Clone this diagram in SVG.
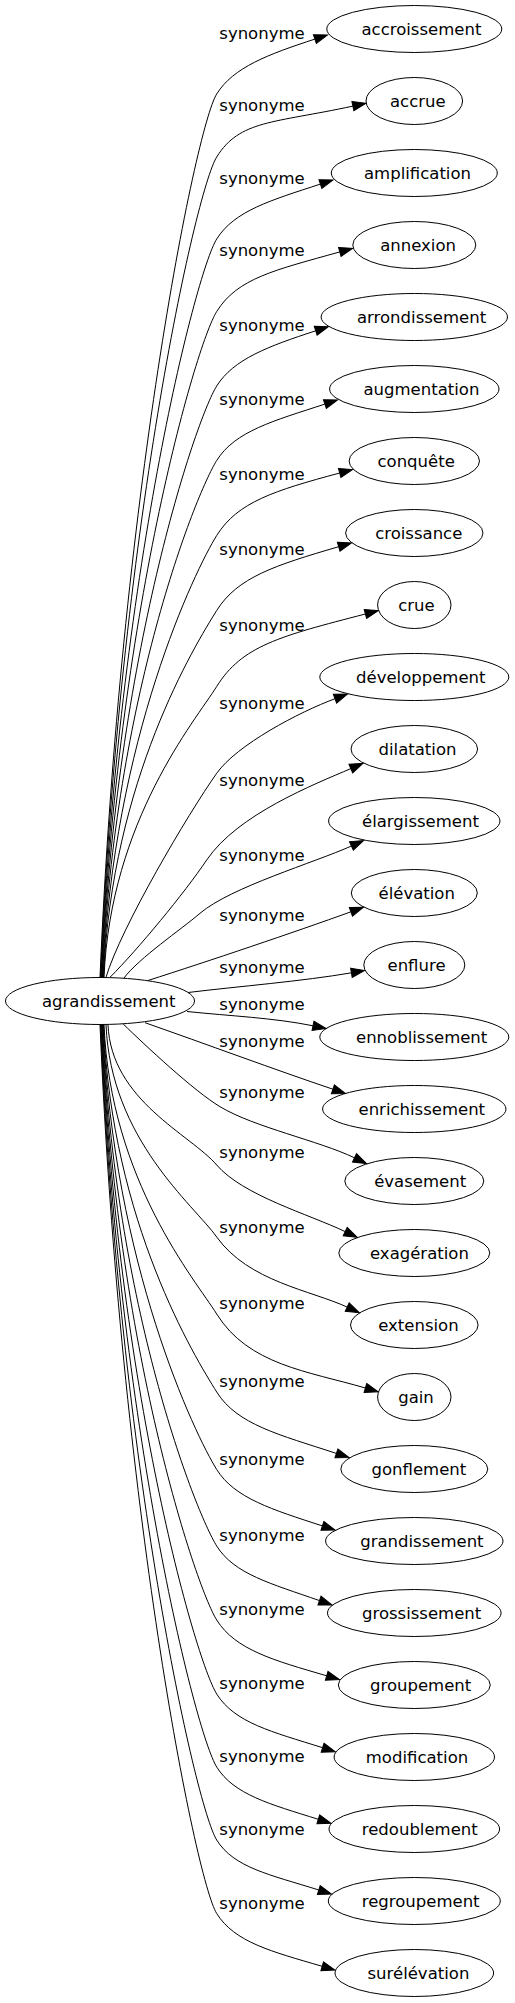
<svg xmlns="http://www.w3.org/2000/svg" width="515" height="2003" viewBox="0 0 515 2003">
<defs>
<style>
.n ellipse{fill:none;stroke:#000;stroke-width:1}
text{font-family:"DejaVu Sans",Verdana,sans-serif;font-size:16.5px;fill:#000}
#edges path{fill:none;stroke:#000;stroke-width:1;marker-end:url(#ah)}
</style>
<marker id="ah" viewBox="0 0 14 10" markerUnits="userSpaceOnUse" markerWidth="14" markerHeight="10" refX="0.5" refY="5" orient="auto" style="overflow:visible"><path d="M0.5,0.33 L13.8,5 L0.5,9.67 z" fill="#000" stroke="#000" stroke-width="1"/></marker>
</defs>
<rect width="515" height="2003" fill="#fff"/>
<g id="edges">
<g id="e0"><path d="M100,977.3 C120.3,500.3 195.5,128 216.7,94 C233.3,67.3 268.3,54.3 314.9,39.1"/><text x="219.3" y="38.5">synonyme</text></g>
<g id="e1"><path d="M100.5,977.3 C119.4,534.3 195.5,191 216.7,157 C239.8,119.9 273.1,123.3 352.9,106.1"/><text x="219.3" y="110.5">synonyme</text></g>
<g id="e2"><path d="M101,977.3 C118,578.6 195.5,273 216.7,239 C234.3,210.8 271.1,200.2 320.4,184.1"/><text x="219.3" y="183.5">synonyme</text></g>
<g id="e3"><path d="M101.5,977.3 C116.8,617.8 195.5,345.5 216.7,311.5 C237.6,278 274.8,270.2 339.8,251.9"/><text x="219.3" y="256">synonyme</text></g>
<g id="e4"><path d="M102,977.3 C115.6,658 195.5,420 216.7,386 C233.5,359.1 268.7,346.1 315.7,330.8"/><text x="219.3" y="330.5">synonyme</text></g>
<g id="e5"><path d="M102.5,977.3 C114.4,698.2 195.5,494.5 216.7,460.5 C235,431.1 273.5,420.9 324.9,404.1"/><text x="219.3" y="405">synonyme</text></g>
<g id="e6"><path d="M103,977.3 C113.2,738.7 195.5,569.5 216.7,535.5 C237.6,502 274.4,490.6 339.7,473"/><text x="219.3" y="480">synonyme</text></g>
<g id="e7"><path d="M103.5,977.3 C111.9,779.2 195.5,644.5 216.7,610.5 C237.4,577.4 274.3,565.5 338.7,546.7"/><text x="219.3" y="555">synonyme</text></g>
<g id="e8"><path d="M104,977.3 C110.7,820.3 195.5,720.5 216.7,686.5 C241.9,646 279.1,636.3 365.4,614"/><text x="219.3" y="631">synonyme</text></g>
<g id="e9"><path d="M106,977.3 C121,927.3 187.9,814.1 216.7,773.3 C236.9,744.7 299.3,712 335,698.7"/><text x="219.3" y="709">synonyme</text></g>
<g id="e10"><path d="M110,977.3 C138,949.3 184.3,893.2 206.7,860 C237.5,814.4 314.1,784.4 350.8,768.6"/><text x="219.3" y="786">synonyme</text></g>
<g id="e11"><path d="M124,978 C139,958 181,929.6 200,913.3 C230.4,887.3 315,862.4 351.4,846"/><text x="219.3" y="861">synonyme</text></g>
<g id="e12"><path d="M148,980.5 C208,961.3 294.5,932.2 350.9,911.8"/><text x="219.3" y="921">synonyme</text></g>
<g id="e13"><path d="M188,992.5 C240,986.2 302.2,981.3 351.4,972.8"/><text x="219.3" y="973">synonyme</text></g>
<g id="e14"><path d="M187,1011.5 C230,1016 273.8,1017.8 313,1025.8"/><text x="219.3" y="1010">synonyme</text></g>
<g id="e15"><path d="M145,1022.7 C205,1043.7 275.9,1070 332.9,1089.2"/><text x="219.3" y="1047">synonyme</text></g>
<g id="e16"><path d="M123.3,1024.1 C144.9,1045.1 194.3,1091.3 220,1106.7 C254.3,1127.3 318.5,1140.6 354.5,1157.8"/><text x="219.3" y="1098">synonyme</text></g>
<g id="e17"><path d="M108,1024.8 C111.2,1100.5 190.7,1134.6 216.7,1165 C242.7,1195.4 309.2,1214.4 345.2,1231.6"/><text x="219.3" y="1158">synonyme</text></g>
<g id="e18"><path d="M106,1024.8 C110.9,1139.4 193.5,1204.6 216.7,1237 C248.6,1281.6 310.9,1290.3 347.2,1307.1"/><text x="219.3" y="1233">synonyme</text></g>
<g id="e19"><path d="M104,1024.8 C110.7,1181 195.5,1280 216.7,1314 C248.5,1365 307.8,1371.2 365.4,1388"/><text x="219.3" y="1309">synonyme</text></g>
<g id="e20"><path d="M103.5,1024.8 C111.9,1223.1 195.5,1358 216.7,1392 C237,1424.6 279.5,1434.8 336.4,1453.4"/><text x="219.3" y="1387">synonyme</text></g>
<g id="e21"><path d="M103,1024.8 C113.2,1264.9 195.5,1435.5 216.7,1469.5 C234.6,1498.2 272.1,1509.5 322.4,1525.9"/><text x="219.3" y="1464.5">synonyme</text></g>
<g id="e22"><path d="M102.5,1024.8 C114.5,1306.2 195.5,1512 216.7,1546 C234.1,1574 270.9,1583.6 319.5,1600.6"/><text x="219.3" y="1541">synonyme</text></g>
<g id="e23"><path d="M102,1024.8 C115.7,1346.2 195.5,1586 216.7,1620 C235.4,1649.9 273.9,1660.4 326.7,1675.8"/><text x="219.3" y="1615">synonyme</text></g>
<g id="e24"><path d="M101.5,1024.8 C116.9,1386.2 195.5,1660 216.7,1694 C234.7,1722.8 272,1731.8 322.6,1747.7"/><text x="219.3" y="1689">synonyme</text></g>
<g id="e25"><path d="M101,1024.8 C118.1,1425.6 195.5,1733 216.7,1767 C233.9,1794.6 269.8,1804.1 318.3,1819.3"/><text x="219.3" y="1762">synonyme</text></g>
<g id="e26"><path d="M100.5,1024.8 C119.2,1465 195.5,1806 216.7,1840 C234,1867.8 270.1,1874.7 318.8,1890"/><text x="219.3" y="1835">synonyme</text></g>
<g id="e27"><path d="M100,1024.8 C120.4,1504.7 195.5,1879.5 216.7,1913.5 C234.6,1942.2 271.5,1951.5 322.2,1966.3"/><text x="219.3" y="1908.5">synonyme</text></g>
</g>
<g id="center" class="n"><ellipse cx="100" cy="1001" rx="94.5" ry="23.5"/><text x="42" y="1006.5">agrandissement</text></g>
<g id="n0" class="n"><ellipse cx="414.3" cy="29" rx="87.5" ry="23.5"/><text x="361.5" y="34.5">accroissement</text></g>
<g id="n1" class="n"><ellipse cx="414.3" cy="101" rx="48.3" ry="23.5"/><text x="390" y="106.5">accrue</text></g>
<g id="n2" class="n"><ellipse cx="414.3" cy="173" rx="83" ry="23.5"/><text x="364" y="178.5">amplification</text></g>
<g id="n3" class="n"><ellipse cx="414.3" cy="245" rx="61.5" ry="23.5"/><text x="380.2" y="250.5">annexion</text></g>
<g id="n4" class="n"><ellipse cx="414.3" cy="317" rx="93.2" ry="23.5"/><text x="357" y="322.5">arrondissement</text></g>
<g id="n5" class="n"><ellipse cx="414.3" cy="389" rx="84.7" ry="23.5"/><text x="363.5" y="394.5">augmentation</text></g>
<g id="n6" class="n"><ellipse cx="414.3" cy="461" rx="65.2" ry="23.5"/><text x="377.5" y="466.5">conquête</text></g>
<g id="n7" class="n"><ellipse cx="414.3" cy="533" rx="68.7" ry="23.5"/><text x="375.2" y="538.5">croissance</text></g>
<g id="n8" class="n"><ellipse cx="414.3" cy="605" rx="36.7" ry="23.5"/><text x="398.2" y="610.5">crue</text></g>
<g id="n9" class="n"><ellipse cx="414.3" cy="677" rx="94.5" ry="23.5"/><text x="356" y="682.5">développement</text></g>
<g id="n10" class="n"><ellipse cx="414.3" cy="749" rx="63.3" ry="23.5"/><text x="378.5" y="754.5">dilatation</text></g>
<g id="n11" class="n"><ellipse cx="414.3" cy="821" rx="85.7" ry="23.5"/><text x="362" y="826.5">élargissement</text></g>
<g id="n12" class="n"><ellipse cx="414.3" cy="893" rx="63" ry="23.5"/><text x="378.5" y="898.5">élévation</text></g>
<g id="n13" class="n"><ellipse cx="414.3" cy="965" rx="50.5" ry="23.5"/><text x="387.5" y="970.5">enflure</text></g>
<g id="n14" class="n"><ellipse cx="414.3" cy="1037" rx="94.5" ry="23.5"/><text x="356" y="1042.5">ennoblissement</text></g>
<g id="n15" class="n"><ellipse cx="414.3" cy="1109" rx="91.7" ry="23.5"/><text x="358.5" y="1114.5">enrichissement</text></g>
<g id="n16" class="n"><ellipse cx="414.3" cy="1181" rx="69.5" ry="23.5"/><text x="374.2" y="1186.5">évasement</text></g>
<g id="n17" class="n"><ellipse cx="414.3" cy="1253" rx="75.5" ry="23.5"/><text x="370" y="1258.5">exagération</text></g>
<g id="n18" class="n"><ellipse cx="414.3" cy="1325" rx="63.8" ry="23.5"/><text x="378.2" y="1330.5">extension</text></g>
<g id="n19" class="n"><ellipse cx="414.3" cy="1397" rx="36.7" ry="23.5"/><text x="398.2" y="1402.5">gain</text></g>
<g id="n20" class="n"><ellipse cx="414.3" cy="1469" rx="73.5" ry="23.5"/><text x="371.5" y="1474.5">gonflement</text></g>
<g id="n21" class="n"><ellipse cx="414.3" cy="1541" rx="88.7" ry="23.5"/><text x="360.2" y="1546.5">grandissement</text></g>
<g id="n22" class="n"><ellipse cx="414.3" cy="1613" rx="86.8" ry="23.5"/><text x="362" y="1618.5">grossissement</text></g>
<g id="n23" class="n"><ellipse cx="414.3" cy="1685" rx="76" ry="23.5"/><text x="370" y="1690.5">groupement</text></g>
<g id="n24" class="n"><ellipse cx="414.3" cy="1757" rx="80.2" ry="23.5"/><text x="365.8" y="1762.5">modification</text></g>
<g id="n25" class="n"><ellipse cx="414.3" cy="1829" rx="85.3" ry="23.5"/><text x="361.8" y="1834.5">redoublement</text></g>
<g id="n26" class="n"><ellipse cx="414.3" cy="1901" rx="86" ry="23.5"/><text x="361.8" y="1906.5">regroupement</text></g>
<g id="n27" class="n"><ellipse cx="414.3" cy="1973" rx="79.3" ry="23.5"/><text x="367.5" y="1978.5">surélévation</text></g>
</svg>
